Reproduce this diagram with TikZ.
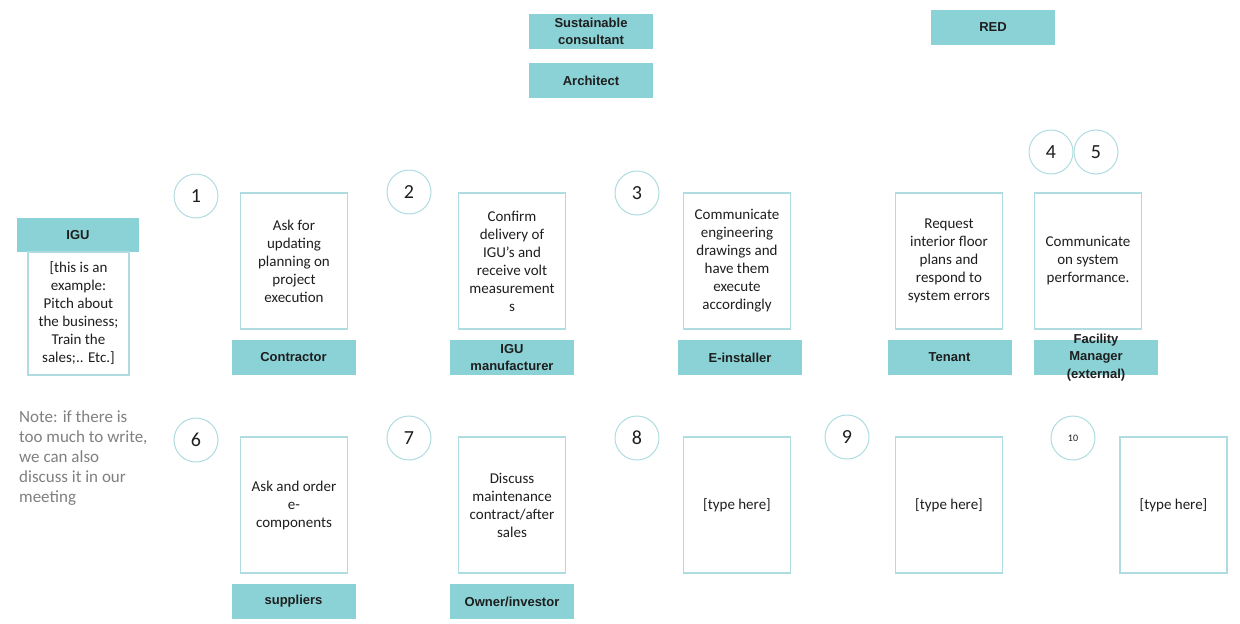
\documentclass[tikz,border=0pt]{standalone}
\usepackage{fontspec}
\setmainfont{Carlito}
\newfontfamily\labfamily{Liberation Sans}
\definecolor{tealfill}{HTML}{8AD2D6}
\definecolor{edge}{HTML}{AEDCE1}
\definecolor{ink}{HTML}{1E1E1E}
\definecolor{notegray}{HTML}{7F7F7F}
\begin{document}
\begin{tikzpicture}[x=1pt,y=-1pt,
  labtext/.style={inner sep=0pt, align=center, text=ink,
    font=\labfamily\bfseries\fontsize{13}{17.5}\selectfont},
  lab/.style={labtext, fill=tealfill, minimum width=124pt, minimum height=35pt},
  card/.style={draw=edge, line width=1.2pt, minimum width=107pt, minimum height=136pt,
    inner sep=0pt, align=center, text=ink, font=\fontsize{15}{18}\selectfont},
  num/.style={circle, draw=edge, line width=1pt, minimum size=44pt, inner sep=0pt,
    text=ink, font=\fontsize{20}{20}\selectfont}]
\useasboundingbox (0,0) rectangle (1240,624);

% top roles
\node[lab] (sust) at (591,31.5) {Sustainable\\consultant};
\node[lab] (arch) at (591,80.5) {Architect};
\node[lab] (red) at (993,27.5) {RED};

% IGU example column
\node[lab, minimum width=122pt, minimum height=34pt] (igu) at (78,235) {IGU};
\node[card, minimum width=101pt, minimum height=123pt] (igubody) at (78.5,313.5)
  {[this is an\\example:\\Pitch about\\the business;\\Train the\\sales;.. Etc.]};

% note
\node[anchor=north west, inner sep=0pt, align=left, text=notegray,
  font=\fontsize{17}{20}\selectfont] (note) at (19,410)
  {Note: if there is\\too much to write,\\we can also\\discuss it in our\\meeting};

% first row
\node[num] (n1) at (196,196) {1};
\node[num] (n2) at (409,192) {2};
\node[num] (n3) at (637,193) {3};
\node[num] (n4) at (1051,152) {4};
\node[num] (n5) at (1096,152) {5};

\node[card] (c1) at (294,261) {Ask for\\updating\\planning on\\project\\execution};
\node[card] (c2) at (512,261) {Confirm\\delivery of\\IGU’s and\\receive volt\\measurement\\s};
\node[card] (c3) at (737,261) {Communicate\\engineering\\drawings and\\have them\\execute\\accordingly};
\node[card] (c4) at (949,261) {Request\\interior floor\\plans and\\respond to\\system errors};
\node[card] (c5) at (1088,261) {Communicate\\on system\\performance.};

\node[lab] (contractor) at (293.5,357.5) {Contractor};
\node[lab] (manuf) at (512,357.5) {IGU\\manufacturer};
\node[lab] (einst) at (740,357.5) {E-installer};
\node[lab] (tenant) at (949.5,357.5) {Tenant};
% the facility manager title runs over its box
\node[lab] (fm) at (1096,357.5) {};
\node[labtext] (fmtext) at (fm.center) {Facility\\Manager\\(external)};

% second row
\node[num] (n6) at (196,440) {6};
\node[num] (n7) at (409,438) {7};
\node[num] (n8) at (637,438) {8};
\node[num] (n9) at (847,437) {9};
\node[num, font=\fontsize{10}{10}\selectfont] (n10) at (1073,438) {10};

\node[card] (c6) at (294,505) {Ask and order\\e-\\components};
\node[card] (c7) at (512,505) {Discuss\\maintenance\\contract/after\\sales};
\node[card] (c8) at (737,505) {[type here]};
\node[card] (c9) at (949,505) {[type here]};
\node[card] (c10) at (1173.5,505) {[type here]};

\node[lab] (suppliers) at (293.5,601.5) {suppliers};
\node[lab] (owner) at (512,601.5) {Owner/investor};
\end{tikzpicture}
\end{document}
